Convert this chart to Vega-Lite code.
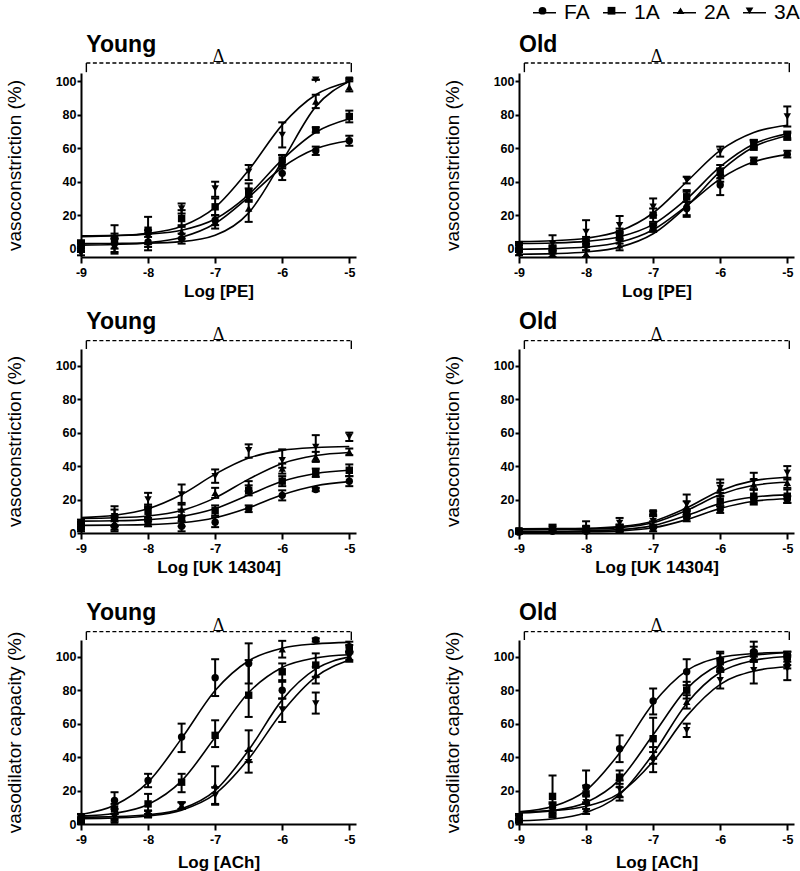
{
"$schema": "https://vega.github.io/schema/vega-lite/v6.json",
"padding": {"left": 5, "top": 0, "right": 0, "bottom": 0},
"datasets": {"d": [
{"p":"YPE","g":"FA","x":-9,"y":2,"lo":0,"hi":4,"f":2.1},{"p":"YPE","g":"FA","x":-8.5,"y":3,"lo":0,"hi":6,"f":2.5},{"p":"YPE","g":"FA","x":-8,"y":4,"lo":1,"hi":7,"f":3.6},{"p":"YPE","g":"FA","x":-7.5,"y":6,"lo":3,"hi":9,"f":6.8},{"p":"YPE","g":"FA","x":-7,"y":17,"lo":14,"hi":20,"f":15},{"p":"YPE","g":"FA","x":-6.5,"y":32,"lo":28,"hi":36,"f":30.8},{"p":"YPE","g":"FA","x":-6,"y":45,"lo":41,"hi":49,"f":48.5},{"p":"YPE","g":"FA","x":-5.5,"y":58.5,"lo":56,"hi":61,"f":59.7},{"p":"YPE","g":"FA","x":-5,"y":64.5,"lo":61.5,"hi":67.5,"f":64.5},
{"p":"YPE","g":"1A","x":-9,"y":3,"lo":1,"hi":5,"f":7.6},{"p":"YPE","g":"1A","x":-8.5,"y":6,"lo":3,"hi":9,"f":7.9},{"p":"YPE","g":"1A","x":-8,"y":11,"lo":3,"hi":19,"f":8.7},{"p":"YPE","g":"1A","x":-7.5,"y":18,"lo":13,"hi":23,"f":11},{"p":"YPE","g":"1A","x":-7,"y":25,"lo":20,"hi":30,"f":17.7},{"p":"YPE","g":"1A","x":-6.5,"y":34,"lo":29,"hi":39,"f":32.3},{"p":"YPE","g":"1A","x":-6,"y":53,"lo":50,"hi":56,"f":53.2},{"p":"YPE","g":"1A","x":-5.5,"y":71,"lo":69.5,"hi":72.5,"f":69.6},{"p":"YPE","g":"1A","x":-5,"y":79,"lo":75.5,"hi":82.5,"f":77.6},
{"p":"YPE","g":"2A","x":-9,"y":1,"lo":-1,"hi":3,"f":3},{"p":"YPE","g":"2A","x":-8.5,"y":2,"lo":-2,"hi":6,"f":3.1},{"p":"YPE","g":"2A","x":-8,"y":4,"lo":-1,"hi":9,"f":3.3},{"p":"YPE","g":"2A","x":-7.5,"y":10,"lo":6,"hi":14,"f":4.2},{"p":"YPE","g":"2A","x":-7,"y":16,"lo":12,"hi":20,"f":8},{"p":"YPE","g":"2A","x":-6.5,"y":24,"lo":16,"hi":31,"f":21.4},{"p":"YPE","g":"2A","x":-6,"y":52,"lo":48,"hi":56,"f":52.3},{"p":"YPE","g":"2A","x":-5.5,"y":88,"lo":84,"hi":92,"f":84.9},{"p":"YPE","g":"2A","x":-5,"y":96.5,"lo":94,"hi":101,"f":100},
{"p":"YPE","g":"3A","x":-9,"y":-3,"lo":-4,"hi":-2,"f":7.2},{"p":"YPE","g":"3A","x":-8.5,"y":5,"lo":-3,"hi":14,"f":7.7},{"p":"YPE","g":"3A","x":-8,"y":7,"lo":3,"hi":11,"f":9.1},{"p":"YPE","g":"3A","x":-7.5,"y":24,"lo":21,"hi":27,"f":13.4},{"p":"YPE","g":"3A","x":-7,"y":36,"lo":31,"hi":40,"f":24.7},{"p":"YPE","g":"3A","x":-6.5,"y":46,"lo":41,"hi":50,"f":47},{"p":"YPE","g":"3A","x":-6,"y":68,"lo":60.5,"hi":75.5,"f":74},{"p":"YPE","g":"3A","x":-5.5,"y":101,"lo":101,"hi":101,"f":92},{"p":"YPE","g":"3A","x":-5,"y":101,"lo":100,"hi":102,"f":99.8},
{"p":"OPE","g":"FA","x":-9,"y":0,"lo":-2,"hi":2,"f":-0.35},{"p":"OPE","g":"FA","x":-8.5,"y":-1,"lo":-3,"hi":1,"f":0},{"p":"OPE","g":"FA","x":-8,"y":2,"lo":-1,"hi":5,"f":0.95},{"p":"OPE","g":"FA","x":-7.5,"y":6,"lo":3,"hi":9,"f":3.8},{"p":"OPE","g":"FA","x":-7,"y":13,"lo":11,"hi":15,"f":11.3},{"p":"OPE","g":"FA","x":-6.5,"y":24,"lo":20,"hi":28,"f":25.6},{"p":"OPE","g":"FA","x":-6,"y":38,"lo":32,"hi":44,"f":41.7},{"p":"OPE","g":"FA","x":-5.5,"y":52.5,"lo":50.5,"hi":54.5,"f":51.9},{"p":"OPE","g":"FA","x":-5,"y":56.5,"lo":54.5,"hi":58.5,"f":56.2},
{"p":"OPE","g":"1A","x":-9,"y":1,"lo":-1,"hi":3,"f":3.1},{"p":"OPE","g":"1A","x":-8.5,"y":0,"lo":-2,"hi":2,"f":3.4},{"p":"OPE","g":"1A","x":-8,"y":4,"lo":1,"hi":7,"f":4.35},{"p":"OPE","g":"1A","x":-7.5,"y":9,"lo":6,"hi":12,"f":7.1},{"p":"OPE","g":"1A","x":-7,"y":20,"lo":16,"hi":24,"f":14.5},{"p":"OPE","g":"1A","x":-6.5,"y":31,"lo":28,"hi":34,"f":29.7},{"p":"OPE","g":"1A","x":-6,"y":46,"lo":42,"hi":50,"f":49},{"p":"OPE","g":"1A","x":-5.5,"y":62,"lo":59,"hi":65,"f":62.6},{"p":"OPE","g":"1A","x":-5,"y":68,"lo":66,"hi":70,"f":68.7},
{"p":"OPE","g":"2A","x":-9,"y":-2,"lo":-4,"hi":0,"f":-3.4},{"p":"OPE","g":"2A","x":-8.5,"y":-3,"lo":-5,"hi":-1,"f":-3},{"p":"OPE","g":"2A","x":-8,"y":-3,"lo":-5,"hi":-1,"f":-2},{"p":"OPE","g":"2A","x":-7.5,"y":2,"lo":-1,"hi":5,"f":0.9},{"p":"OPE","g":"2A","x":-7,"y":12,"lo":10,"hi":14,"f":8.9},{"p":"OPE","g":"2A","x":-6.5,"y":27,"lo":19,"hi":35,"f":25.3},{"p":"OPE","g":"2A","x":-6,"y":44,"lo":40,"hi":48,"f":46.2},{"p":"OPE","g":"2A","x":-5.5,"y":62,"lo":60,"hi":64,"f":60.8},{"p":"OPE","g":"2A","x":-5,"y":67,"lo":65,"hi":69,"f":67.5},
{"p":"OPE","g":"3A","x":-9,"y":2,"lo":0,"hi":4,"f":4.2},{"p":"OPE","g":"3A","x":-8.5,"y":3,"lo":-1,"hi":8,"f":4.7},{"p":"OPE","g":"3A","x":-8,"y":10,"lo":3,"hi":17,"f":6.2},{"p":"OPE","g":"3A","x":-7.5,"y":14,"lo":10,"hi":19.5,"f":10.5},{"p":"OPE","g":"3A","x":-7,"y":25,"lo":20,"hi":30,"f":21.3},{"p":"OPE","g":"3A","x":-6.5,"y":41,"lo":39,"hi":43,"f":40},{"p":"OPE","g":"3A","x":-6,"y":58,"lo":55,"hi":61,"f":58.7},{"p":"OPE","g":"3A","x":-5.5,"y":63,"lo":61,"hi":65,"f":69.5},{"p":"OPE","g":"3A","x":-5,"y":79,"lo":73,"hi":85,"f":73.8},
{"p":"YUK","g":"FA","x":-9,"y":3,"lo":1,"hi":5,"f":4.55},{"p":"YUK","g":"FA","x":-8.5,"y":4,"lo":1,"hi":7,"f":4.7},{"p":"YUK","g":"FA","x":-8,"y":6,"lo":4,"hi":8,"f":5},{"p":"YUK","g":"FA","x":-7.5,"y":4,"lo":1,"hi":7,"f":6.1},{"p":"YUK","g":"FA","x":-7,"y":6.5,"lo":3.5,"hi":9.5,"f":9.1},{"p":"YUK","g":"FA","x":-6.5,"y":14.5,"lo":12.5,"hi":16.5,"f":15.1},{"p":"YUK","g":"FA","x":-6,"y":22.5,"lo":19.5,"hi":25.5,"f":22.8},{"p":"YUK","g":"FA","x":-5.5,"y":26,"lo":25,"hi":27,"f":28.2},{"p":"YUK","g":"FA","x":-5,"y":31,"lo":28,"hi":34,"f":30.7},
{"p":"YUK","g":"1A","x":-9,"y":4,"lo":2,"hi":6,"f":7.1},{"p":"YUK","g":"1A","x":-8.5,"y":9,"lo":4,"hi":14,"f":7.3},{"p":"YUK","g":"1A","x":-8,"y":13,"lo":9,"hi":17,"f":8},{"p":"YUK","g":"1A","x":-7.5,"y":9,"lo":4,"hi":14,"f":9.9},{"p":"YUK","g":"1A","x":-7,"y":13.5,"lo":10.5,"hi":16.5,"f":14.6},{"p":"YUK","g":"1A","x":-6.5,"y":25.5,"lo":22.5,"hi":28.5,"f":22.75},{"p":"YUK","g":"1A","x":-6,"y":31,"lo":28,"hi":34,"f":30.9},{"p":"YUK","g":"1A","x":-5.5,"y":36,"lo":33.5,"hi":38.5,"f":35.6},{"p":"YUK","g":"1A","x":-5,"y":37.5,"lo":34,"hi":41,"f":37.5},
{"p":"YUK","g":"2A","x":-9,"y":5,"lo":3,"hi":7,"f":8.7},{"p":"YUK","g":"2A","x":-8.5,"y":6,"lo":2,"hi":10,"f":9.1},{"p":"YUK","g":"2A","x":-8,"y":11,"lo":7,"hi":15,"f":10.2},{"p":"YUK","g":"2A","x":-7.5,"y":14,"lo":10,"hi":18,"f":13.5},{"p":"YUK","g":"2A","x":-7,"y":24,"lo":21,"hi":27,"f":21},{"p":"YUK","g":"2A","x":-6.5,"y":28,"lo":25,"hi":31,"f":32.2},{"p":"YUK","g":"2A","x":-6,"y":38.5,"lo":35.5,"hi":41.5,"f":41.6},{"p":"YUK","g":"2A","x":-5.5,"y":45.5,"lo":42.5,"hi":48.5,"f":46.3},{"p":"YUK","g":"2A","x":-5,"y":48.5,"lo":46.5,"hi":50.5,"f":48.1},
{"p":"YUK","g":"3A","x":-9,"y":6,"lo":4,"hi":8,"f":9.2},{"p":"YUK","g":"3A","x":-8.5,"y":10,"lo":4,"hi":16,"f":10.6},{"p":"YUK","g":"3A","x":-8,"y":20,"lo":16,"hi":24,"f":14.5},{"p":"YUK","g":"3A","x":-7.5,"y":23,"lo":17,"hi":29,"f":23},{"p":"YUK","g":"3A","x":-7,"y":34,"lo":30,"hi":38,"f":35.2},{"p":"YUK","g":"3A","x":-6.5,"y":49.5,"lo":45,"hi":53,"f":44.8},{"p":"YUK","g":"3A","x":-6,"y":43.5,"lo":39,"hi":50,"f":49.4},{"p":"YUK","g":"3A","x":-5.5,"y":51.5,"lo":43,"hi":58.5,"f":51.1},{"p":"YUK","g":"3A","x":-5,"y":57.5,"lo":55,"hi":60,"f":51.7},
{"p":"OUK","g":"FA","x":-9,"y":0.5,"lo":0,"hi":1.5,"f":0.5},{"p":"OUK","g":"FA","x":-8.5,"y":1,"lo":0,"hi":2,"f":0.55},{"p":"OUK","g":"FA","x":-8,"y":1,"lo":0,"hi":2.5,"f":0.7},{"p":"OUK","g":"FA","x":-7.5,"y":2,"lo":0,"hi":4,"f":1.2},{"p":"OUK","g":"FA","x":-7,"y":3,"lo":1,"hi":5,"f":3.1},{"p":"OUK","g":"FA","x":-6.5,"y":9,"lo":7,"hi":11,"f":8},{"p":"OUK","g":"FA","x":-6,"y":14,"lo":12,"hi":16,"f":14.7},{"p":"OUK","g":"FA","x":-5.5,"y":19,"lo":17,"hi":21,"f":19},{"p":"OUK","g":"FA","x":-5,"y":20,"lo":18,"hi":22,"f":20.45},
{"p":"OUK","g":"1A","x":-9,"y":1,"lo":0,"hi":2,"f":1},{"p":"OUK","g":"1A","x":-8.5,"y":2,"lo":0,"hi":4,"f":1},{"p":"OUK","g":"1A","x":-8,"y":2,"lo":0,"hi":4,"f":1.3},{"p":"OUK","g":"1A","x":-7.5,"y":3,"lo":1,"hi":5,"f":2},{"p":"OUK","g":"1A","x":-7,"y":12,"lo":11,"hi":13,"f":4.4},{"p":"OUK","g":"1A","x":-6.5,"y":12,"lo":10,"hi":14,"f":10.5},{"p":"OUK","g":"1A","x":-6,"y":19,"lo":16,"hi":22,"f":17.6},{"p":"OUK","g":"1A","x":-5.5,"y":22,"lo":18,"hi":26,"f":21.5},{"p":"OUK","g":"1A","x":-5,"y":22,"lo":18,"hi":26,"f":22.8},
{"p":"OUK","g":"2A","x":-9,"y":1,"lo":0,"hi":2,"f":2},{"p":"OUK","g":"2A","x":-8.5,"y":1.5,"lo":0.5,"hi":2.5,"f":2.1},{"p":"OUK","g":"2A","x":-8,"y":2,"lo":0,"hi":4,"f":2.3},{"p":"OUK","g":"2A","x":-7.5,"y":3,"lo":1,"hi":5,"f":3.2},{"p":"OUK","g":"2A","x":-7,"y":5,"lo":3,"hi":7,"f":6.1},{"p":"OUK","g":"2A","x":-6.5,"y":16,"lo":13,"hi":19,"f":13.5},{"p":"OUK","g":"2A","x":-6,"y":27,"lo":24,"hi":30,"f":23},{"p":"OUK","g":"2A","x":-5.5,"y":29,"lo":26,"hi":32,"f":28.5},{"p":"OUK","g":"2A","x":-5,"y":30,"lo":27,"hi":33,"f":30.3},
{"p":"OUK","g":"3A","x":-9,"y":1.5,"lo":0.5,"hi":2.5,"f":2.5},{"p":"OUK","g":"3A","x":-8.5,"y":3,"lo":1,"hi":5,"f":2.6},{"p":"OUK","g":"3A","x":-8,"y":3,"lo":0,"hi":7,"f":2.8},{"p":"OUK","g":"3A","x":-7.5,"y":6,"lo":3,"hi":9,"f":3.8},{"p":"OUK","g":"3A","x":-7,"y":7,"lo":4,"hi":10,"f":7},{"p":"OUK","g":"3A","x":-6.5,"y":17,"lo":11,"hi":23,"f":15},{"p":"OUK","g":"3A","x":-6,"y":27,"lo":22,"hi":32,"f":25.3},{"p":"OUK","g":"3A","x":-5.5,"y":31,"lo":26,"hi":36,"f":31.3},{"p":"OUK","g":"3A","x":-5,"y":36,"lo":32,"hi":40,"f":33.3},
{"p":"YAC","g":"FA","x":-9,"y":2,"lo":0,"hi":4,"f":5.7},{"p":"YAC","g":"FA","x":-8.5,"y":14,"lo":9,"hi":19,"f":11.2},{"p":"YAC","g":"FA","x":-8,"y":26,"lo":22,"hi":30,"f":25},{"p":"YAC","g":"FA","x":-7.5,"y":52,"lo":43,"hi":60,"f":51.2},{"p":"YAC","g":"FA","x":-7,"y":87.5,"lo":76.5,"hi":98.5,"f":79.8},{"p":"YAC","g":"FA","x":-6.5,"y":96,"lo":84,"hi":108,"f":97.6},{"p":"YAC","g":"FA","x":-6,"y":80,"lo":75,"hi":85,"f":105.1},{"p":"YAC","g":"FA","x":-5.5,"y":110,"lo":109,"hi":111,"f":107.7},{"p":"YAC","g":"FA","x":-5,"y":106,"lo":103,"hi":109,"f":108.6},
{"p":"YAC","g":"1A","x":-9,"y":4,"lo":2,"hi":6,"f":4.7},{"p":"YAC","g":"1A","x":-8.5,"y":9,"lo":6,"hi":12,"f":6.4},{"p":"YAC","g":"1A","x":-8,"y":12,"lo":6,"hi":18,"f":11.7},{"p":"YAC","g":"1A","x":-7.5,"y":25,"lo":19,"hi":30,"f":25.8},{"p":"YAC","g":"1A","x":-7,"y":53,"lo":46,"hi":62,"f":51.8},{"p":"YAC","g":"1A","x":-6.5,"y":77,"lo":64,"hi":98,"f":78.6},{"p":"YAC","g":"1A","x":-6,"y":91,"lo":86,"hi":96,"f":93.6},{"p":"YAC","g":"1A","x":-5.5,"y":95,"lo":88,"hi":102,"f":99.3},{"p":"YAC","g":"1A","x":-5,"y":105,"lo":103,"hi":107,"f":101.2},
{"p":"YAC","g":"2A","x":-9,"y":2,"lo":1,"hi":3,"f":4.1},{"p":"YAC","g":"2A","x":-8.5,"y":2,"lo":1,"hi":3,"f":4.4},{"p":"YAC","g":"2A","x":-8,"y":6,"lo":4,"hi":8,"f":5.5},{"p":"YAC","g":"2A","x":-7.5,"y":11,"lo":9,"hi":13,"f":9.1},{"p":"YAC","g":"2A","x":-7,"y":23,"lo":11.5,"hi":34.5,"f":20},{"p":"YAC","g":"2A","x":-6.5,"y":45,"lo":37,"hi":56,"f":44.2},{"p":"YAC","g":"2A","x":-6,"y":104.5,"lo":99.5,"hi":109.5,"f":74.2},{"p":"YAC","g":"2A","x":-5.5,"y":89,"lo":84,"hi":94,"f":92.7},{"p":"YAC","g":"2A","x":-5,"y":100,"lo":98,"hi":102,"f":99.9},
{"p":"YAC","g":"3A","x":-9,"y":1,"lo":0,"hi":2,"f":3.2},{"p":"YAC","g":"3A","x":-8.5,"y":4,"lo":2,"hi":6,"f":3.6},{"p":"YAC","g":"3A","x":-8,"y":6,"lo":4,"hi":8,"f":4.8},{"p":"YAC","g":"3A","x":-7.5,"y":11,"lo":9,"hi":13,"f":8.3},{"p":"YAC","g":"3A","x":-7,"y":17,"lo":12,"hi":22,"f":18},{"p":"YAC","g":"3A","x":-6.5,"y":37,"lo":30.7,"hi":43.7,"f":39},{"p":"YAC","g":"3A","x":-6,"y":68.5,"lo":61,"hi":75,"f":67},{"p":"YAC","g":"3A","x":-5.5,"y":72,"lo":66,"hi":78.6,"f":88},{"p":"YAC","g":"3A","x":-5,"y":100,"lo":97,"hi":103,"f":98},
{"p":"OAC","g":"FA","x":-9,"y":3,"lo":1,"hi":5,"f":7.3},{"p":"OAC","g":"FA","x":-8.5,"y":10,"lo":7,"hi":13,"f":10.4},{"p":"OAC","g":"FA","x":-8,"y":22,"lo":12,"hi":32,"f":20.1},{"p":"OAC","g":"FA","x":-7.5,"y":45,"lo":37,"hi":53,"f":42.5},{"p":"OAC","g":"FA","x":-7,"y":73.5,"lo":65.5,"hi":81,"f":72},{"p":"OAC","g":"FA","x":-6.5,"y":91,"lo":83,"hi":98.5,"f":91.7},{"p":"OAC","g":"FA","x":-6,"y":98,"lo":93,"hi":103,"f":99.5},{"p":"OAC","g":"FA","x":-5.5,"y":103,"lo":97,"hi":109,"f":101.9},{"p":"OAC","g":"FA","x":-5,"y":99,"lo":95,"hi":103,"f":102.7},
{"p":"OAC","g":"1A","x":-9,"y":4,"lo":2,"hi":6,"f":6.6},{"p":"OAC","g":"1A","x":-8.5,"y":16.5,"lo":5,"hi":29,"f":8},{"p":"OAC","g":"1A","x":-8,"y":18,"lo":13,"hi":23,"f":12.8},{"p":"OAC","g":"1A","x":-7.5,"y":28,"lo":24,"hi":32,"f":26.5},{"p":"OAC","g":"1A","x":-7,"y":51,"lo":39,"hi":63.5,"f":53.3},{"p":"OAC","g":"1A","x":-6.5,"y":80,"lo":75,"hi":85,"f":80.8},{"p":"OAC","g":"1A","x":-6,"y":97,"lo":92,"hi":102,"f":95.5},{"p":"OAC","g":"1A","x":-5.5,"y":102,"lo":98,"hi":106,"f":100.8},{"p":"OAC","g":"1A","x":-5,"y":100,"lo":97,"hi":103,"f":102.4},
{"p":"OAC","g":"2A","x":-9,"y":2,"lo":1,"hi":3,"f":1.9},{"p":"OAC","g":"2A","x":-8.5,"y":6,"lo":4,"hi":8,"f":3},{"p":"OAC","g":"2A","x":-8,"y":9,"lo":6,"hi":12,"f":6.9},{"p":"OAC","g":"2A","x":-7.5,"y":18,"lo":14,"hi":22,"f":17.6},{"p":"OAC","g":"2A","x":-7,"y":41,"lo":36,"hi":46,"f":41.9},{"p":"OAC","g":"2A","x":-6.5,"y":73,"lo":69,"hi":77,"f":72.1},{"p":"OAC","g":"2A","x":-6,"y":95,"lo":91,"hi":99,"f":90.7},{"p":"OAC","g":"2A","x":-5.5,"y":100,"lo":97,"hi":103,"f":97.8},{"p":"OAC","g":"2A","x":-5,"y":97,"lo":93,"hi":101,"f":100.1},
{"p":"OAC","g":"3A","x":-9,"y":2,"lo":1,"hi":3,"f":7.3},{"p":"OAC","g":"3A","x":-8.5,"y":9,"lo":6,"hi":12,"f":8},{"p":"OAC","g":"3A","x":-8,"y":13,"lo":9,"hi":17,"f":10.6},{"p":"OAC","g":"3A","x":-7.5,"y":21,"lo":16,"hi":26,"f":18.5},{"p":"OAC","g":"3A","x":-7,"y":38,"lo":31,"hi":43,"f":37.5},{"p":"OAC","g":"3A","x":-6.5,"y":56,"lo":52,"hi":60,"f":64.5},{"p":"OAC","g":"3A","x":-6,"y":86,"lo":81,"hi":91,"f":83.5},{"p":"OAC","g":"3A","x":-5.5,"y":92,"lo":84,"hi":100,"f":91.4},{"p":"OAC","g":"3A","x":-5,"y":93,"lo":86,"hi":100,"f":94}
]},
"config": {
 "view": {"stroke": null},
 "font": "Liberation Sans",
 "axis": {"grid": false, "domainColor": "black", "domainWidth": 2, "tickColor": "black", "tickWidth": 2, "labelFont": "Liberation Sans", "labelFontWeight": "bold", "labelFontSize": 12.5, "labelColor": "black", "titleFont": "Liberation Sans", "titleColor": "black"},
 "axisX": {"tickSize": 6, "labelPadding": 3, "titleFontSize": 17, "titleFontWeight": "bold", "titlePadding": 5},
 "axisY": {"tickSize": 4, "labelPadding": 1, "titleFontSize": 19, "titleFontWeight": "normal", "titlePadding": 31, "labelOverlap": false},
 "legend": {"orient": "none", "direction": "horizontal", "labelFont": "Liberation Sans", "labelFontSize": 21, "labelColor": "black", "padding": 0, "symbolOpacity": 1}
},
"spacing": 10,
"vconcat": [
 {"spacing": 87, "hconcat": [
  {"width": 275, "height": 184, "layer": [
   {"data": {"name": "d"}, "transform": [{"filter": "datum.p == 'YPE'"}], "layer": [
    {"mark": {"type": "line", "interpolate": "monotone", "strokeWidth": 1.6}, "encoding": {"x": {"field": "x", "type": "quantitative", "scale": {"domain": [-9, -4.9], "nice": false, "zero": false}, "axis": {"title": "Log [PE]", "values": [-9, -8, -7, -6, -5], "tickCount": 10, "labelExpr": "'-' + abs(datum.value)", "labelFlush": false, "labelOverlap": false}}, "y": {"field": "f", "type": "quantitative", "scale": {"domain": [-5, 105], "nice": false, "zero": false}, "axis": {"title": "vasoconstriction (%)", "values": [0, 20, 40, 60, 80, 100], "tickCount": 12, "labelOverlap": false, "labelBound": false}}, "color": {"field": "g", "type": "nominal", "sort": ["FA", "1A", "2A", "3A"], "scale": {"range": ["black", "black", "black", "black"]}, "legend": {"title": null, "legendX": 451, "legendY": -73, "symbolType": "stroke", "symbolSize": 529, "symbolStrokeWidth": 1.5, "symbolStrokeColor": "black", "labelOffset": 7, "columnPadding": 10}}}},
    {"mark": {"type": "rule", "color": "black", "strokeWidth": 2}, "encoding": {"x": {"field": "x", "type": "quantitative"}, "y": {"field": "lo", "type": "quantitative"}, "y2": {"field": "hi"}}},
    {"mark": {"type": "tick", "orient": "horizontal", "color": "black", "size": 8, "thickness": 2, "opacity": 1}, "encoding": {"x": {"field": "x", "type": "quantitative"}, "y": {"field": "lo", "type": "quantitative"}}},
    {"mark": {"type": "tick", "orient": "horizontal", "color": "black", "size": 8, "thickness": 2, "opacity": 1}, "encoding": {"x": {"field": "x", "type": "quantitative"}, "y": {"field": "hi", "type": "quantitative"}}},
    {"mark": {"type": "point", "filled": true, "color": "black", "opacity": 1, "size": 55}, "encoding": {"x": {"field": "x", "type": "quantitative"}, "y": {"field": "y", "type": "quantitative"}, "shape": {"field": "g", "type": "nominal", "scale": {"domain": ["FA", "1A", "2A", "3A"], "range": ["circle", "square", "triangle-up", "triangle-down"]}, "legend": {"title": null, "legendX": 451, "legendY": -73, "symbolSize": 60, "symbolFillColor": "black", "labelOffset": 7, "columnPadding": 41, "labelExpr": "''"}}}}
   ]},
   {"data": {"values": [{}]}, "mark": {"type": "rule", "color": "black", "strokeWidth": 1.4, "strokeDash": [4, 2.5]}, "encoding": {"x": {"datum": -8.92, "type": "quantitative"}, "x2": {"datum": -4.97}, "y": {"datum": 111, "type": "quantitative"}}},
   {"data": {"values": [{"bx": -8.92}, {"bx": -4.97}]}, "mark": {"type": "rule", "color": "black", "strokeWidth": 1.4}, "encoding": {"x": {"field": "bx", "type": "quantitative"}, "y": {"datum": 111, "type": "quantitative"}, "y2": {"datum": 105.5}}},
   {"data": {"values": [{}]}, "mark": {"type": "text", "text": "Δ", "font": "Liberation Serif", "fontSize": 18, "align": "center", "baseline": "alphabetic", "dy": -1, "color": "black"}, "encoding": {"x": {"datum": -6.95, "type": "quantitative"}, "y": {"datum": 111, "type": "quantitative"}}},
   {"data": {"values": [{}]}, "mark": {"type": "text", "text": "Young", "font": "Liberation Sans", "fontWeight": "bold", "fontSize": 23, "align": "left", "baseline": "alphabetic", "color": "black"}, "encoding": {"x": {"datum": -8.92, "type": "quantitative"}, "y": {"datum": 117.5, "type": "quantitative"}}}
  ]},
  {"width": 275, "height": 184, "layer": [
   {"data": {"name": "d"}, "transform": [{"filter": "datum.p == 'OPE'"}], "layer": [
    {"mark": {"type": "line", "interpolate": "monotone", "strokeWidth": 1.6}, "encoding": {"x": {"field": "x", "type": "quantitative", "scale": {"domain": [-9, -4.9], "nice": false, "zero": false}, "axis": {"title": "Log [PE]", "values": [-9, -8, -7, -6, -5], "tickCount": 10, "labelExpr": "'-' + abs(datum.value)", "labelFlush": false, "labelOverlap": false}}, "y": {"field": "f", "type": "quantitative", "scale": {"domain": [-5, 105], "nice": false, "zero": false}, "axis": {"title": "vasoconstriction (%)", "values": [0, 20, 40, 60, 80, 100], "tickCount": 12, "labelOverlap": false, "labelBound": false}}, "color": {"field": "g", "type": "nominal", "sort": ["FA", "1A", "2A", "3A"], "scale": {"range": ["black", "black", "black", "black"]}, "legend": {"title": null, "legendX": 451, "legendY": -73, "symbolType": "stroke", "symbolSize": 529, "symbolStrokeWidth": 1.5, "symbolStrokeColor": "black", "labelOffset": 7, "columnPadding": 10}}}},
    {"mark": {"type": "rule", "color": "black", "strokeWidth": 2}, "encoding": {"x": {"field": "x", "type": "quantitative"}, "y": {"field": "lo", "type": "quantitative"}, "y2": {"field": "hi"}}},
    {"mark": {"type": "tick", "orient": "horizontal", "color": "black", "size": 8, "thickness": 2, "opacity": 1}, "encoding": {"x": {"field": "x", "type": "quantitative"}, "y": {"field": "lo", "type": "quantitative"}}},
    {"mark": {"type": "tick", "orient": "horizontal", "color": "black", "size": 8, "thickness": 2, "opacity": 1}, "encoding": {"x": {"field": "x", "type": "quantitative"}, "y": {"field": "hi", "type": "quantitative"}}},
    {"mark": {"type": "point", "filled": true, "color": "black", "opacity": 1, "size": 55}, "encoding": {"x": {"field": "x", "type": "quantitative"}, "y": {"field": "y", "type": "quantitative"}, "shape": {"field": "g", "type": "nominal", "scale": {"domain": ["FA", "1A", "2A", "3A"], "range": ["circle", "square", "triangle-up", "triangle-down"]}, "legend": {"title": null, "legendX": 451, "legendY": -73, "symbolSize": 60, "symbolFillColor": "black", "labelOffset": 7, "columnPadding": 41, "labelExpr": "''"}}}}
   ]},
   {"data": {"values": [{}]}, "mark": {"type": "rule", "color": "black", "strokeWidth": 1.4, "strokeDash": [4, 2.5]}, "encoding": {"x": {"datum": -8.92, "type": "quantitative"}, "x2": {"datum": -4.97}, "y": {"datum": 111, "type": "quantitative"}}},
   {"data": {"values": [{"bx": -8.92}, {"bx": -4.97}]}, "mark": {"type": "rule", "color": "black", "strokeWidth": 1.4}, "encoding": {"x": {"field": "bx", "type": "quantitative"}, "y": {"datum": 111, "type": "quantitative"}, "y2": {"datum": 105.5}}},
   {"data": {"values": [{}]}, "mark": {"type": "text", "text": "Δ", "font": "Liberation Serif", "fontSize": 18, "align": "center", "baseline": "alphabetic", "dy": -1, "color": "black"}, "encoding": {"x": {"datum": -6.95, "type": "quantitative"}, "y": {"datum": 111, "type": "quantitative"}}},
   {"data": {"values": [{}]}, "mark": {"type": "text", "text": "Old", "font": "Liberation Sans", "fontWeight": "bold", "fontSize": 23, "align": "left", "baseline": "alphabetic", "color": "black"}, "encoding": {"x": {"datum": -9, "type": "quantitative"}, "y": {"datum": 117.5, "type": "quantitative"}}}
  ]}
 ]},
 {"spacing": 25, "vconcat": [
  {"spacing": 87, "hconcat": [
   {"width": 275, "height": 184, "layer": [
    {"data": {"name": "d"}, "transform": [{"filter": "datum.p == 'YUK'"}], "layer": [
     {"mark": {"type": "line", "interpolate": "monotone", "strokeWidth": 1.6}, "encoding": {"x": {"field": "x", "type": "quantitative", "scale": {"domain": [-9, -4.9], "nice": false, "zero": false}, "axis": {"title": "Log [UK 14304]", "values": [-9, -8, -7, -6, -5], "tickCount": 10, "labelExpr": "'-' + abs(datum.value)", "labelFlush": false, "labelOverlap": false}}, "y": {"field": "f", "type": "quantitative", "scale": {"domain": [0, 110], "nice": false, "zero": false}, "axis": {"title": "vasoconstriction (%)", "values": [0, 20, 40, 60, 80, 100], "tickCount": 12, "labelOverlap": false, "labelBound": false}}, "color": {"field": "g", "type": "nominal", "sort": ["FA", "1A", "2A", "3A"], "scale": {"range": ["black", "black", "black", "black"]}, "legend": {"title": null, "legendX": 451, "legendY": -73, "symbolType": "stroke", "symbolSize": 529, "symbolStrokeWidth": 1.5, "symbolStrokeColor": "black", "labelOffset": 7, "columnPadding": 10}}}},
     {"mark": {"type": "rule", "color": "black", "strokeWidth": 2}, "encoding": {"x": {"field": "x", "type": "quantitative"}, "y": {"field": "lo", "type": "quantitative"}, "y2": {"field": "hi"}}},
     {"mark": {"type": "tick", "orient": "horizontal", "color": "black", "size": 8, "thickness": 2, "opacity": 1}, "encoding": {"x": {"field": "x", "type": "quantitative"}, "y": {"field": "lo", "type": "quantitative"}}},
     {"mark": {"type": "tick", "orient": "horizontal", "color": "black", "size": 8, "thickness": 2, "opacity": 1}, "encoding": {"x": {"field": "x", "type": "quantitative"}, "y": {"field": "hi", "type": "quantitative"}}},
     {"mark": {"type": "point", "filled": true, "color": "black", "opacity": 1, "size": 55}, "encoding": {"x": {"field": "x", "type": "quantitative"}, "y": {"field": "y", "type": "quantitative"}, "shape": {"field": "g", "type": "nominal", "scale": {"domain": ["FA", "1A", "2A", "3A"], "range": ["circle", "square", "triangle-up", "triangle-down"]}, "legend": {"title": null, "legendX": 451, "legendY": -73, "symbolSize": 60, "symbolFillColor": "black", "labelOffset": 7, "columnPadding": 41, "labelExpr": "''"}}}}
    ]},
    {"data": {"values": [{}]}, "mark": {"type": "rule", "color": "black", "strokeWidth": 1.4, "strokeDash": [4, 2.5]}, "encoding": {"x": {"datum": -8.92, "type": "quantitative"}, "x2": {"datum": -4.97}, "y": {"datum": 115, "type": "quantitative"}}},
    {"data": {"values": [{"bx": -8.92}, {"bx": -4.97}]}, "mark": {"type": "rule", "color": "black", "strokeWidth": 1.4}, "encoding": {"x": {"field": "bx", "type": "quantitative"}, "y": {"datum": 115, "type": "quantitative"}, "y2": {"datum": 110}}},
    {"data": {"values": [{}]}, "mark": {"type": "text", "text": "Δ", "font": "Liberation Serif", "fontSize": 18, "align": "center", "baseline": "alphabetic", "dy": -1, "color": "black"}, "encoding": {"x": {"datum": -6.95, "type": "quantitative"}, "y": {"datum": 115, "type": "quantitative"}}},
    {"data": {"values": [{}]}, "mark": {"type": "text", "text": "Young", "font": "Liberation Sans", "fontWeight": "bold", "fontSize": 23, "align": "left", "baseline": "alphabetic", "color": "black"}, "encoding": {"x": {"datum": -8.92, "type": "quantitative"}, "y": {"datum": 122, "type": "quantitative"}}}
   ]},
   {"width": 275, "height": 184, "layer": [
    {"data": {"name": "d"}, "transform": [{"filter": "datum.p == 'OUK'"}], "layer": [
     {"mark": {"type": "line", "interpolate": "monotone", "strokeWidth": 1.6}, "encoding": {"x": {"field": "x", "type": "quantitative", "scale": {"domain": [-9, -4.9], "nice": false, "zero": false}, "axis": {"title": "Log [UK 14304]", "values": [-9, -8, -7, -6, -5], "tickCount": 10, "labelExpr": "'-' + abs(datum.value)", "labelFlush": false, "labelOverlap": false}}, "y": {"field": "f", "type": "quantitative", "scale": {"domain": [0, 110], "nice": false, "zero": false}, "axis": {"title": "vasoconstriction (%)", "values": [0, 20, 40, 60, 80, 100], "tickCount": 12, "labelOverlap": false, "labelBound": false}}, "color": {"field": "g", "type": "nominal", "sort": ["FA", "1A", "2A", "3A"], "scale": {"range": ["black", "black", "black", "black"]}, "legend": {"title": null, "legendX": 451, "legendY": -73, "symbolType": "stroke", "symbolSize": 529, "symbolStrokeWidth": 1.5, "symbolStrokeColor": "black", "labelOffset": 7, "columnPadding": 10}}}},
     {"mark": {"type": "rule", "color": "black", "strokeWidth": 2}, "encoding": {"x": {"field": "x", "type": "quantitative"}, "y": {"field": "lo", "type": "quantitative"}, "y2": {"field": "hi"}}},
     {"mark": {"type": "tick", "orient": "horizontal", "color": "black", "size": 8, "thickness": 2, "opacity": 1}, "encoding": {"x": {"field": "x", "type": "quantitative"}, "y": {"field": "lo", "type": "quantitative"}}},
     {"mark": {"type": "tick", "orient": "horizontal", "color": "black", "size": 8, "thickness": 2, "opacity": 1}, "encoding": {"x": {"field": "x", "type": "quantitative"}, "y": {"field": "hi", "type": "quantitative"}}},
     {"mark": {"type": "point", "filled": true, "color": "black", "opacity": 1, "size": 55}, "encoding": {"x": {"field": "x", "type": "quantitative"}, "y": {"field": "y", "type": "quantitative"}, "shape": {"field": "g", "type": "nominal", "scale": {"domain": ["FA", "1A", "2A", "3A"], "range": ["circle", "square", "triangle-up", "triangle-down"]}, "legend": {"title": null, "legendX": 451, "legendY": -73, "symbolSize": 60, "symbolFillColor": "black", "labelOffset": 7, "columnPadding": 41, "labelExpr": "''"}}}}
    ]},
    {"data": {"values": [{}]}, "mark": {"type": "rule", "color": "black", "strokeWidth": 1.4, "strokeDash": [4, 2.5]}, "encoding": {"x": {"datum": -8.92, "type": "quantitative"}, "x2": {"datum": -4.97}, "y": {"datum": 115, "type": "quantitative"}}},
    {"data": {"values": [{"bx": -8.92}, {"bx": -4.97}]}, "mark": {"type": "rule", "color": "black", "strokeWidth": 1.4}, "encoding": {"x": {"field": "bx", "type": "quantitative"}, "y": {"datum": 115, "type": "quantitative"}, "y2": {"datum": 110}}},
    {"data": {"values": [{}]}, "mark": {"type": "text", "text": "Δ", "font": "Liberation Serif", "fontSize": 18, "align": "center", "baseline": "alphabetic", "dy": -1, "color": "black"}, "encoding": {"x": {"datum": -6.95, "type": "quantitative"}, "y": {"datum": 115, "type": "quantitative"}}},
    {"data": {"values": [{}]}, "mark": {"type": "text", "text": "Old", "font": "Liberation Sans", "fontWeight": "bold", "fontSize": 23, "align": "left", "baseline": "alphabetic", "color": "black"}, "encoding": {"x": {"datum": -9, "type": "quantitative"}, "y": {"datum": 122, "type": "quantitative"}}}
   ]}
  ]},
  {"spacing": 87, "hconcat": [
   {"width": 275, "height": 184, "layer": [
    {"data": {"name": "d"}, "transform": [{"filter": "datum.p == 'YAC'"}], "layer": [
     {"mark": {"type": "line", "interpolate": "monotone", "strokeWidth": 1.6}, "encoding": {"x": {"field": "x", "type": "quantitative", "scale": {"domain": [-9, -4.9], "nice": false, "zero": false}, "axis": {"title": "Log [ACh]", "values": [-9, -8, -7, -6, -5], "tickCount": 10, "labelExpr": "'-' + abs(datum.value)", "labelFlush": false, "labelOverlap": false, "titlePadding": 9}}, "y": {"field": "f", "type": "quantitative", "scale": {"domain": [0, 110], "nice": false, "zero": false}, "axis": {"title": "vasodilator capacity (%)", "values": [0, 20, 40, 60, 80, 100], "tickCount": 12, "labelOverlap": false, "labelBound": false}}, "color": {"field": "g", "type": "nominal", "sort": ["FA", "1A", "2A", "3A"], "scale": {"range": ["black", "black", "black", "black"]}, "legend": {"title": null, "legendX": 451, "legendY": -73, "symbolType": "stroke", "symbolSize": 529, "symbolStrokeWidth": 1.5, "symbolStrokeColor": "black", "labelOffset": 7, "columnPadding": 10}}}},
     {"mark": {"type": "rule", "color": "black", "strokeWidth": 2}, "encoding": {"x": {"field": "x", "type": "quantitative"}, "y": {"field": "lo", "type": "quantitative"}, "y2": {"field": "hi"}}},
     {"mark": {"type": "tick", "orient": "horizontal", "color": "black", "size": 8, "thickness": 2, "opacity": 1}, "encoding": {"x": {"field": "x", "type": "quantitative"}, "y": {"field": "lo", "type": "quantitative"}}},
     {"mark": {"type": "tick", "orient": "horizontal", "color": "black", "size": 8, "thickness": 2, "opacity": 1}, "encoding": {"x": {"field": "x", "type": "quantitative"}, "y": {"field": "hi", "type": "quantitative"}}},
     {"mark": {"type": "point", "filled": true, "color": "black", "opacity": 1, "size": 55}, "encoding": {"x": {"field": "x", "type": "quantitative"}, "y": {"field": "y", "type": "quantitative"}, "shape": {"field": "g", "type": "nominal", "scale": {"domain": ["FA", "1A", "2A", "3A"], "range": ["circle", "square", "triangle-up", "triangle-down"]}, "legend": {"title": null, "legendX": 451, "legendY": -73, "symbolSize": 60, "symbolFillColor": "black", "labelOffset": 7, "columnPadding": 41, "labelExpr": "''"}}}}
    ]},
    {"data": {"values": [{}]}, "mark": {"type": "rule", "color": "black", "strokeWidth": 1.4, "strokeDash": [4, 2.5]}, "encoding": {"x": {"datum": -8.92, "type": "quantitative"}, "x2": {"datum": -4.97}, "y": {"datum": 115, "type": "quantitative"}}},
    {"data": {"values": [{"bx": -8.92}, {"bx": -4.97}]}, "mark": {"type": "rule", "color": "black", "strokeWidth": 1.4}, "encoding": {"x": {"field": "bx", "type": "quantitative"}, "y": {"datum": 115, "type": "quantitative"}, "y2": {"datum": 110}}},
    {"data": {"values": [{}]}, "mark": {"type": "text", "text": "Δ", "font": "Liberation Serif", "fontSize": 18, "align": "center", "baseline": "alphabetic", "dy": -1, "color": "black"}, "encoding": {"x": {"datum": -6.95, "type": "quantitative"}, "y": {"datum": 115, "type": "quantitative"}}},
    {"data": {"values": [{}]}, "mark": {"type": "text", "text": "Young", "font": "Liberation Sans", "fontWeight": "bold", "fontSize": 23, "align": "left", "baseline": "alphabetic", "color": "black"}, "encoding": {"x": {"datum": -8.92, "type": "quantitative"}, "y": {"datum": 122, "type": "quantitative"}}}
   ]},
   {"width": 275, "height": 184, "layer": [
    {"data": {"name": "d"}, "transform": [{"filter": "datum.p == 'OAC'"}], "layer": [
     {"mark": {"type": "line", "interpolate": "monotone", "strokeWidth": 1.6}, "encoding": {"x": {"field": "x", "type": "quantitative", "scale": {"domain": [-9, -4.9], "nice": false, "zero": false}, "axis": {"title": "Log [ACh]", "values": [-9, -8, -7, -6, -5], "tickCount": 10, "labelExpr": "'-' + abs(datum.value)", "labelFlush": false, "labelOverlap": false, "titlePadding": 9}}, "y": {"field": "f", "type": "quantitative", "scale": {"domain": [0, 110], "nice": false, "zero": false}, "axis": {"title": "vasodilator capacity (%)", "values": [0, 20, 40, 60, 80, 100], "tickCount": 12, "labelOverlap": false, "labelBound": false}}, "color": {"field": "g", "type": "nominal", "sort": ["FA", "1A", "2A", "3A"], "scale": {"range": ["black", "black", "black", "black"]}, "legend": {"title": null, "legendX": 451, "legendY": -73, "symbolType": "stroke", "symbolSize": 529, "symbolStrokeWidth": 1.5, "symbolStrokeColor": "black", "labelOffset": 7, "columnPadding": 10}}}},
     {"mark": {"type": "rule", "color": "black", "strokeWidth": 2}, "encoding": {"x": {"field": "x", "type": "quantitative"}, "y": {"field": "lo", "type": "quantitative"}, "y2": {"field": "hi"}}},
     {"mark": {"type": "tick", "orient": "horizontal", "color": "black", "size": 8, "thickness": 2, "opacity": 1}, "encoding": {"x": {"field": "x", "type": "quantitative"}, "y": {"field": "lo", "type": "quantitative"}}},
     {"mark": {"type": "tick", "orient": "horizontal", "color": "black", "size": 8, "thickness": 2, "opacity": 1}, "encoding": {"x": {"field": "x", "type": "quantitative"}, "y": {"field": "hi", "type": "quantitative"}}},
     {"mark": {"type": "point", "filled": true, "color": "black", "opacity": 1, "size": 55}, "encoding": {"x": {"field": "x", "type": "quantitative"}, "y": {"field": "y", "type": "quantitative"}, "shape": {"field": "g", "type": "nominal", "scale": {"domain": ["FA", "1A", "2A", "3A"], "range": ["circle", "square", "triangle-up", "triangle-down"]}, "legend": {"title": null, "legendX": 451, "legendY": -73, "symbolSize": 60, "symbolFillColor": "black", "labelOffset": 7, "columnPadding": 41, "labelExpr": "''"}}}}
    ]},
    {"data": {"values": [{}]}, "mark": {"type": "rule", "color": "black", "strokeWidth": 1.4, "strokeDash": [4, 2.5]}, "encoding": {"x": {"datum": -8.92, "type": "quantitative"}, "x2": {"datum": -4.97}, "y": {"datum": 115, "type": "quantitative"}}},
    {"data": {"values": [{"bx": -8.92}, {"bx": -4.97}]}, "mark": {"type": "rule", "color": "black", "strokeWidth": 1.4}, "encoding": {"x": {"field": "bx", "type": "quantitative"}, "y": {"datum": 115, "type": "quantitative"}, "y2": {"datum": 110}}},
    {"data": {"values": [{}]}, "mark": {"type": "text", "text": "Δ", "font": "Liberation Serif", "fontSize": 18, "align": "center", "baseline": "alphabetic", "dy": -1, "color": "black"}, "encoding": {"x": {"datum": -6.95, "type": "quantitative"}, "y": {"datum": 115, "type": "quantitative"}}},
    {"data": {"values": [{}]}, "mark": {"type": "text", "text": "Old", "font": "Liberation Sans", "fontWeight": "bold", "fontSize": 23, "align": "left", "baseline": "alphabetic", "color": "black"}, "encoding": {"x": {"datum": -9, "type": "quantitative"}, "y": {"datum": 122, "type": "quantitative"}}}
   ]}
  ]}
 ]}
]
}
